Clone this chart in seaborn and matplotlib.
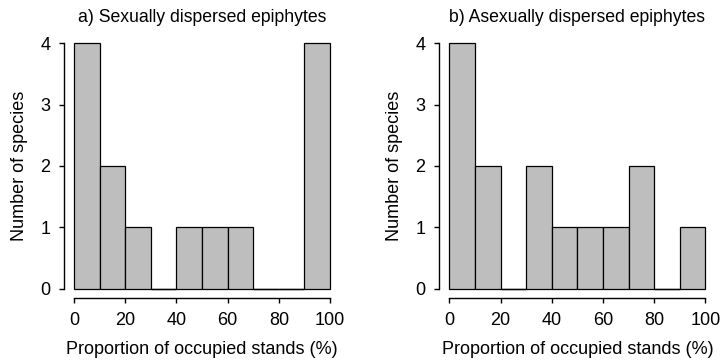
import numpy as np
import pandas as pd
import seaborn as sns
import matplotlib.pyplot as plt

# bins of 10 % occupied stands, counts
bin_edges = [0, 10, 20, 30, 40, 50, 60, 70, 80, 90, 100]
bin_mids = [5, 15, 25, 35, 45, 55, 65, 75, 85, 95]
sexual_counts = [4, 2, 1, 0, 1, 1, 1, 0, 0, 4]
asexual_counts = [4, 2, 0, 2, 1, 1, 1, 2, 0, 1]
titles = ["a) Sexually dispersed epiphytes", "b) Asexually dispersed epiphytes"]
x_ticks = [0, 20, 40, 60, 80, 100]
y_ticks = [0, 1, 2, 3, 4]

sns.set_style("ticks")
plt.rcParams['font.family'] = ['Liberation Sans', 'DejaVu Sans']
plt.rcParams['text.color'] = 'black'
plt.rcParams['axes.labelcolor'] = 'black'

fig = plt.figure(figsize=(7.21, 3.63), dpi=100)
ax1 = fig.add_axes([0.0885, 0.1777, 0.3835, 0.730])
ax2 = fig.add_axes([0.609, 0.1777, 0.3835, 0.730])

for ax, counts, title in zip([ax1, ax2], [sexual_counts, asexual_counts], titles):
    df = pd.DataFrame({"prop": bin_mids, "n": counts})
    sns.histplot(data=df, x="prop", weights="n", bins=bin_edges, ax=ax,
                 color="#bebebe", edgecolor="black", linewidth=0.9, alpha=1)
    # empty classes still show as a flat line on the baseline
    left = np.array(bin_edges[:-1])
    right = np.array(bin_edges[1:])
    empty = np.array(counts) == 0
    ax.hlines(np.zeros(empty.sum()), left[empty], right[empty],
              color="black", linewidth=1.0)
    ax.set_xlim(-4, 104)
    ax.set_ylim(-0.16, 4.16)
    ax.set_xticks(x_ticks)
    ax.set_yticks(y_ticks)
    ax.spines['top'].set_visible(False)
    ax.spines['right'].set_visible(False)
    ax.spines['left'].set_bounds(0, 4)
    ax.spines['bottom'].set_bounds(0, 100)
    for s in ['left', 'bottom']:
        ax.spines[s].set_color("black")
        ax.spines[s].set_linewidth(1.0)
    ax.tick_params(axis='both', length=3.8, width=1.0, color="black",
                   labelsize=13, labelcolor="black", pad=6)
    ax.set_xlabel("Proportion of occupied stands (%)", fontsize=13, color="black")
    ax.set_ylabel("Number of species", fontsize=13, color="black")
    ax.xaxis.set_label_coords(0.5, -0.16)
    ax.yaxis.set_label_coords(-0.13, 0.5)
    ax.set_title(title, fontsize=12.7, pad=8.5, color="black")

fig.savefig("out.png", dpi=100)
